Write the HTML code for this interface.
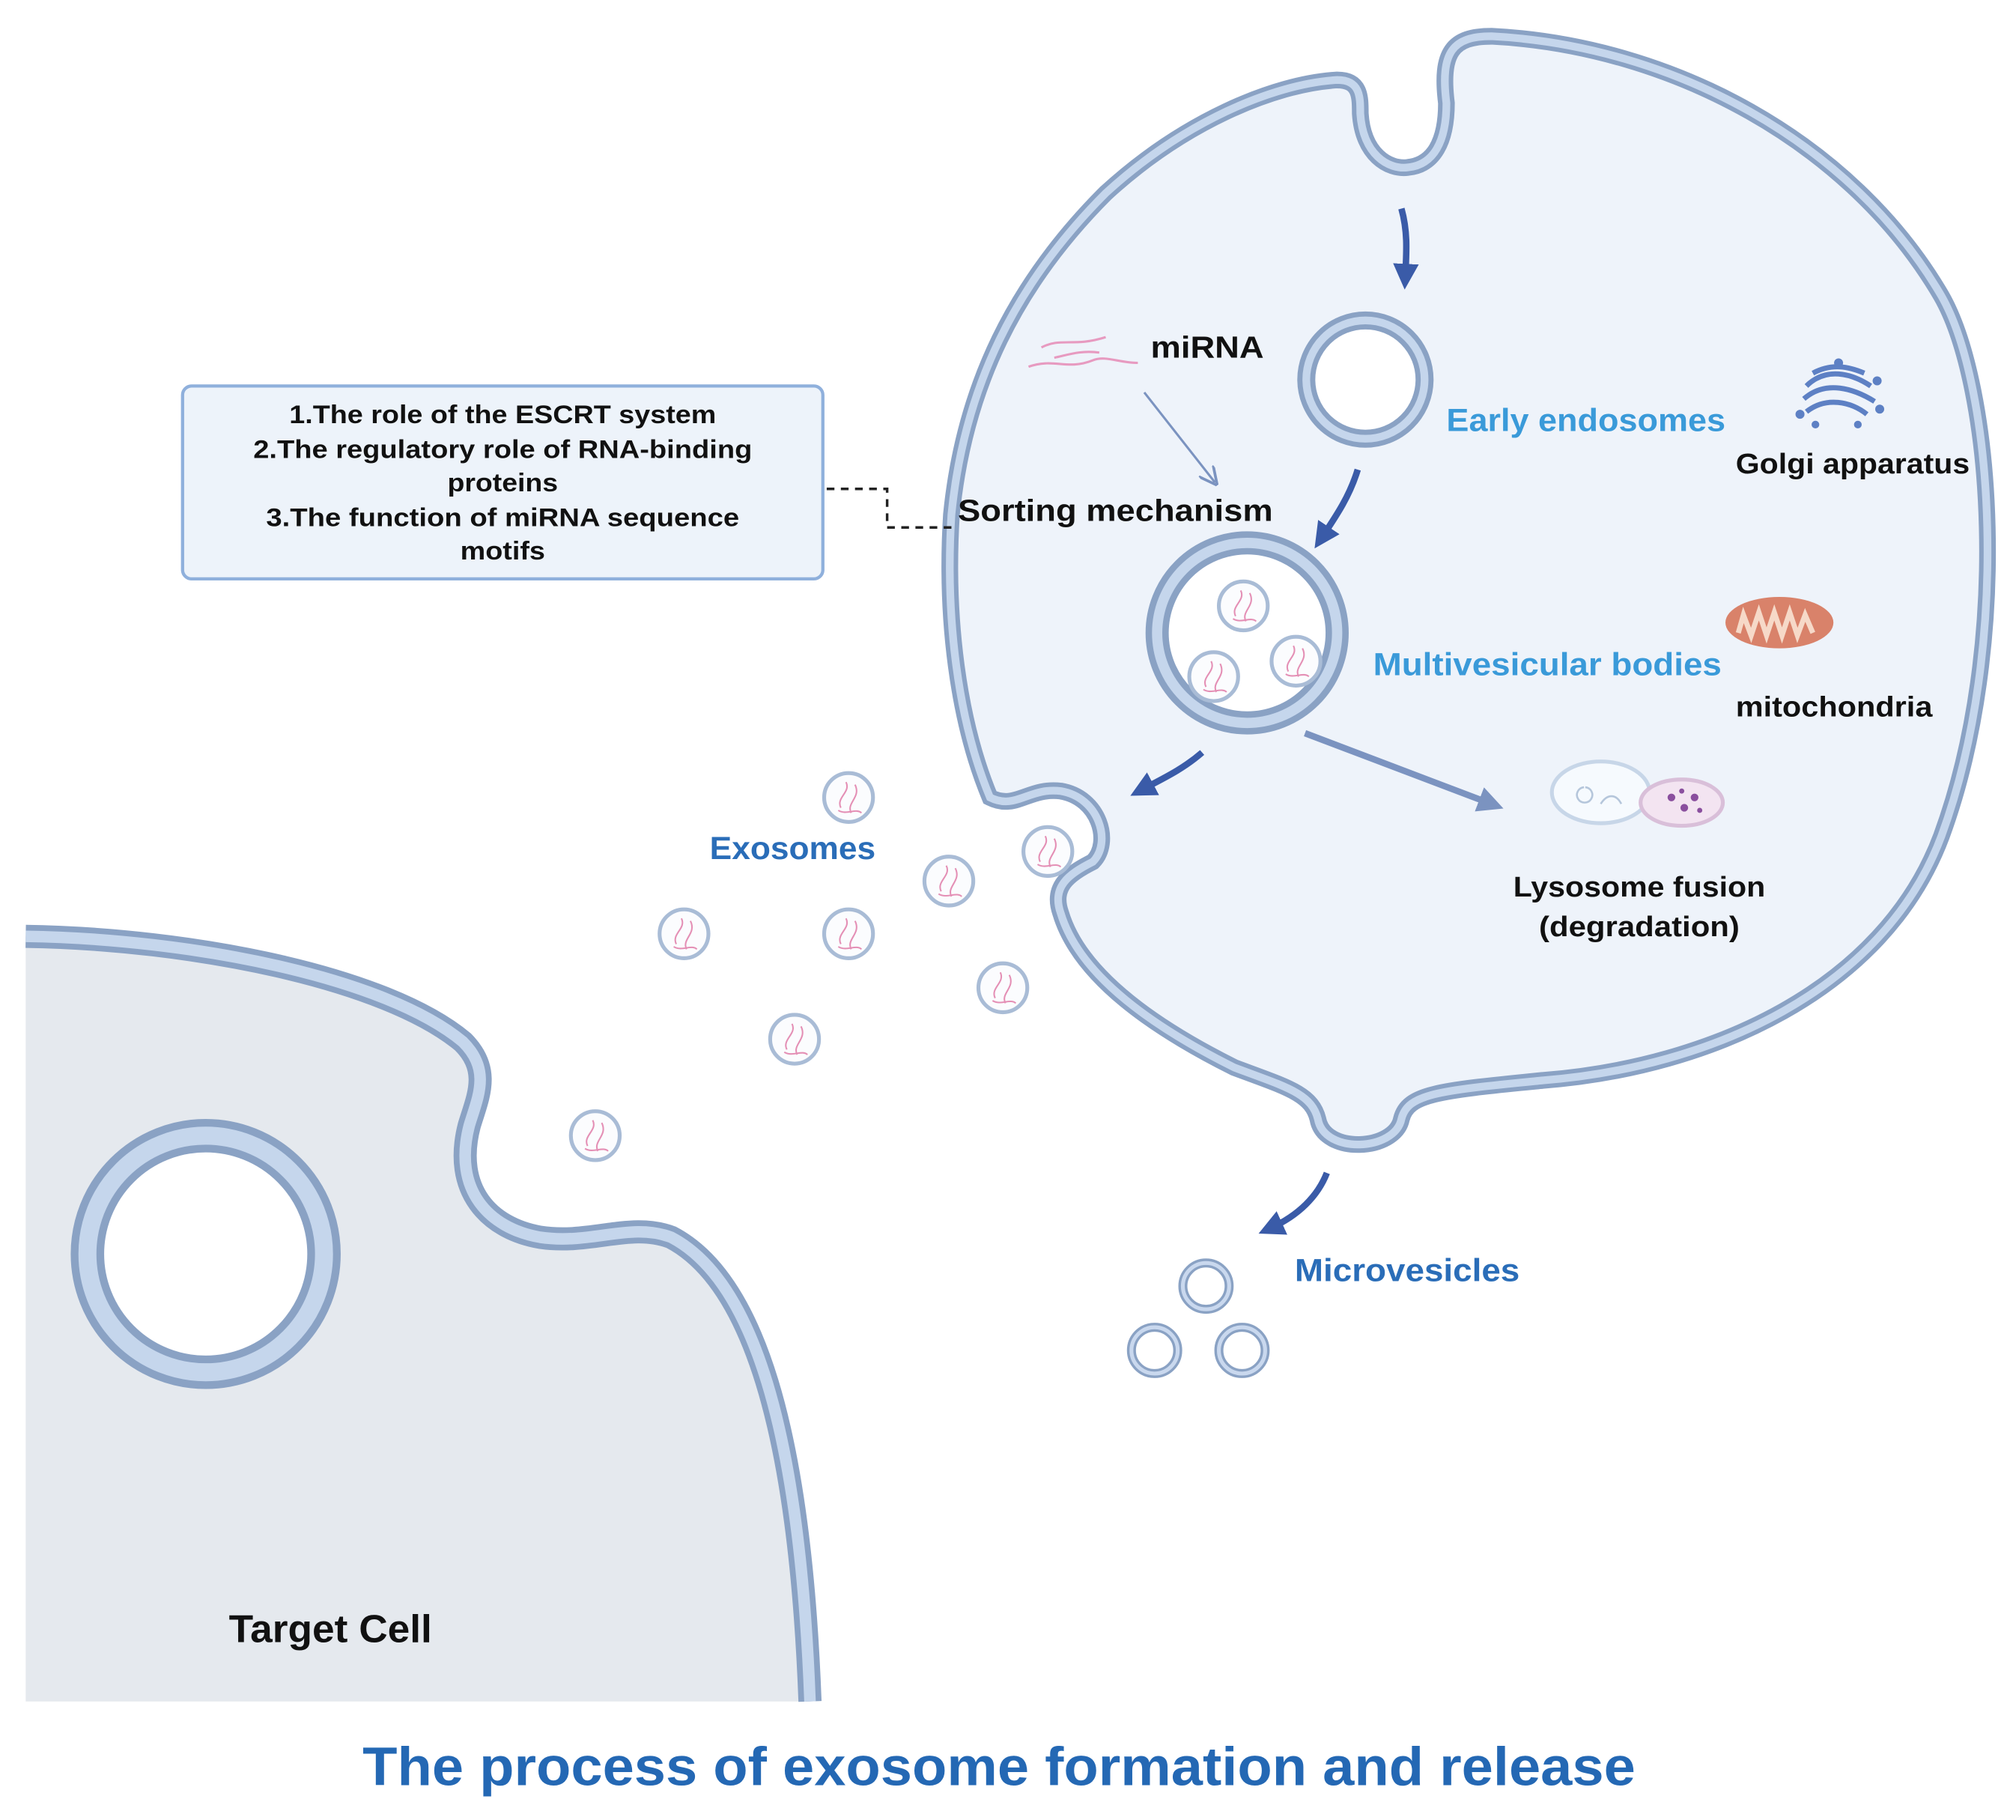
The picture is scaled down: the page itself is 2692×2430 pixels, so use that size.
<!DOCTYPE html>
<html><head><meta charset="utf-8"><style>
html,body{margin:0;padding:0;background:#fff;}
svg{display:block;}
text{font-family:"Liberation Sans",sans-serif;font-weight:bold;}
</style></head><body>
<svg width="2692" height="2430" viewBox="0 0 1568 1415" xmlns="http://www.w3.org/2000/svg">
<defs>
<marker id="ah" viewBox="0 0 10 10" refX="5" refY="5" markerWidth="4" markerHeight="4" orient="auto"><path d="M0,0 L10,5 L0,10 z" fill="#3a5ba8"/></marker>
<marker id="ah2" viewBox="0 0 10 10" refX="5" refY="5" markerWidth="4" markerHeight="4" orient="auto"><path d="M0,0 L10,5 L0,10 z" fill="#7b93c0"/></marker>
<marker id="ah3" viewBox="0 0 10 10" refX="8" refY="5" markerWidth="8" markerHeight="8" orient="auto"><path d="M0,0 L10,5 L0,10" fill="none" stroke="#7b93c0" stroke-width="1.5"/></marker>
<g id="ves">
<circle r="19" fill="#fbfcfe" stroke="#a9bcd6" stroke-width="3"/>
<path d="M-6,8 C-10,0 2,-4 -2,-12 M2,12 C-2,4 10,0 5,-10 M-8,10 C-2,14 6,8 10,12" fill="none" stroke="#e48fb5" stroke-width="1.2"/>
</g>
<g id="mv"><circle r="18" fill="#fff" stroke="#8aa2c4" stroke-width="7"/><circle r="18" fill="none" stroke="#c9d8ee" stroke-width="3"/></g>
<path id="cellp" d="M1058,88 C1060,120 1080,132 1095,130 C1115,128 1125,110 1125,80 C1120,40 1130,28 1160,28 C1300,35 1440,110 1510,230 C1550,300 1565,500 1510,650 C1465,770 1330,830 1200,840 C1120,848 1095,850 1090,870 C1085,895 1030,898 1025,870 C1020,850 1000,845 960,830 C900,800 840,760 825,710 C818,690 830,680 850,670 C865,655 855,620 825,615 C800,612 790,630 770,620 C745,560 735,480 740,400 C750,300 790,220 860,150 C920,95 990,65 1040,62 C1058,62 1058,75 1058,88 Z"/>
<path id="tcp" d="M20,728 C150,730 300,760 360,810 C382,832 372,852 365,875 C352,925 380,955 420,962 C460,968 490,950 522,962 C585,995 622,1110 630,1323"/>
</defs>

<!-- target cell -->
<path d="M20,728 C150,730 300,760 360,810 C382,832 372,852 365,875 C352,925 380,955 420,962 C460,968 490,950 522,962 C585,995 622,1110 630,1323 L20,1323 Z" fill="#e5e9ee"/>
<use href="#tcp" fill="none" stroke="#8aa2c4" stroke-width="18"/>
<use href="#tcp" fill="none" stroke="#c5d6ec" stroke-width="9"/>
<circle cx="160" cy="975" r="92" fill="#fff" stroke="#8aa2c4" stroke-width="26"/>
<circle cx="160" cy="975" r="92" fill="none" stroke="#c5d6ec" stroke-width="14"/>

<!-- main cell -->
<use href="#cellp" fill="#eef3fa" stroke="#8aa2c4" stroke-width="13"/>
<use href="#cellp" fill="none" stroke="#c5d6ec" stroke-width="6"/>

<!-- early endosome -->
<circle cx="1062" cy="295" r="46" fill="#fff" stroke="#8aa2c4" stroke-width="14"/>
<circle cx="1062" cy="295" r="46" fill="none" stroke="#c5d6ec" stroke-width="6"/>
<!-- MVB -->
<circle cx="970" cy="492" r="70" fill="#fff" stroke="#8aa2c4" stroke-width="18"/>
<circle cx="970" cy="492" r="70" fill="none" stroke="#c5d6ec" stroke-width="8"/>
<use href="#ves" x="967" y="471"/><use href="#ves" x="944" y="526"/><use href="#ves" x="1008" y="514"/>

<!-- exosomes -->
<use href="#ves" x="660" y="620"/><use href="#ves" x="815" y="662"/><use href="#ves" x="738" y="685"/>
<use href="#ves" x="532" y="726"/><use href="#ves" x="660" y="726"/><use href="#ves" x="780" y="768"/>
<use href="#ves" x="618" y="808"/><use href="#ves" x="463" y="883"/>

<!-- microvesicles -->
<use href="#mv" x="938" y="1000"/><use href="#mv" x="898" y="1050"/><use href="#mv" x="966" y="1050"/>

<!-- arrows -->
<path d="M1090,162 C1095,180 1094,195 1093,215" fill="none" stroke="#3a5ba8" stroke-width="5" marker-end="url(#ah)"/>
<path d="M1056,365 C1050,385 1040,400 1028,418" fill="none" stroke="#3a5ba8" stroke-width="5" marker-end="url(#ah)"/>
<path d="M935,585 C920,598 905,605 888,614" fill="none" stroke="#3a5ba8" stroke-width="5" marker-end="url(#ah)"/>
<path d="M1015,570 L1160,625" fill="none" stroke="#7b93c0" stroke-width="5" marker-end="url(#ah2)"/>
<path d="M1032,912 C1025,930 1010,945 988,955" fill="none" stroke="#3a5ba8" stroke-width="5" marker-end="url(#ah)"/>
<path d="M890,305 L945,375" fill="none" stroke="#7b93c0" stroke-width="1.8" marker-end="url(#ah3)"/>

<!-- miRNA squiggles -->
<path d="M800,285 C820,278 830,288 850,280 C860,276 870,282 885,282 M810,270 C825,262 835,270 860,262 M820,278 C830,276 840,272 855,274" fill="none" stroke="#e79ac0" stroke-width="1.8"/>

<!-- golgi -->
<g fill="#5d80c4" stroke="#5d80c4">
<path d="M1405,300 C1420,285 1440,290 1455,300 M1403,310 C1420,295 1442,302 1458,312 M1405,320 C1420,308 1440,312 1452,322 M1410,290 C1425,282 1438,285 1450,290" fill="none" stroke-width="4"/>
<circle cx="1400" cy="322" r="3"/><circle cx="1460" cy="296" r="3"/><circle cx="1462" cy="318" r="3"/><circle cx="1430" cy="282" r="3"/><circle cx="1445" cy="330" r="2.5"/><circle cx="1412" cy="330" r="2.5"/>
</g>
<!-- mitochondria -->
<ellipse cx="1384" cy="484" rx="42" ry="20" fill="#d9826a"/>
<path d="M1352,492 L1356,478 L1362,494 L1368,476 L1374,494 L1380,476 L1386,494 L1392,476 L1398,494 L1404,478 L1410,492" fill="none" stroke="#f6d9c8" stroke-width="4"/>
<!-- lysosome -->
<ellipse cx="1245" cy="616" rx="38" ry="24" fill="#f6fafe" stroke="#c7d6e8" stroke-width="3"/>
<ellipse cx="1308" cy="624" rx="32" ry="18" fill="#f3e4f1" stroke="#d9bfd9" stroke-width="3"/>
<g fill="#8a4f9e"><circle cx="1300" cy="620" r="3"/><circle cx="1310" cy="628" r="3"/><circle cx="1318" cy="620" r="3"/><circle cx="1308" cy="615" r="2"/><circle cx="1322" cy="630" r="2"/></g>
<path d="M1232,612 a6,6 0 1 0 1,0 M1245,625 c5,-8 12,-8 16,0" fill="none" stroke="#b5c6db" stroke-width="1.5"/>

<!-- box -->
<rect x="142" y="300" width="498" height="150" rx="7" fill="#edf3fa" stroke="#8fb0dc" stroke-width="2.5"/>
<g font-size="20" text-anchor="middle" fill="#111">
<text x="391" y="329" textLength="332" lengthAdjust="spacingAndGlyphs">1.The role of the ESCRT system</text>
<text x="391" y="356" textLength="388" lengthAdjust="spacingAndGlyphs">2.The regulatory role of RNA-binding</text>
<text x="391" y="382" textLength="86" lengthAdjust="spacingAndGlyphs">proteins</text>
<text x="391" y="409" textLength="368" lengthAdjust="spacingAndGlyphs">3.The function of miRNA sequence</text>
<text x="391" y="435" textLength="66" lengthAdjust="spacingAndGlyphs">motifs</text>
</g>
<path d="M643,380 L690,380 L690,410 L740,410" fill="none" stroke="#222" stroke-width="2" stroke-dasharray="6,5"/>

<!-- labels -->
<g font-size="24" fill="#111">
<text x="895" y="278" textLength="88" lengthAdjust="spacingAndGlyphs">miRNA</text>
<text x="745" y="405" textLength="245" lengthAdjust="spacingAndGlyphs">Sorting mechanism</text>
</g>
<g font-size="22" fill="#111">
<text x="1350" y="368" textLength="182" lengthAdjust="spacingAndGlyphs">Golgi apparatus</text>
<text x="1350" y="557" textLength="153" lengthAdjust="spacingAndGlyphs">mitochondria</text>
<text x="1275" y="697" text-anchor="middle" textLength="196" lengthAdjust="spacingAndGlyphs">Lysosome fusion</text>
<text x="1275" y="728" text-anchor="middle" textLength="156" lengthAdjust="spacingAndGlyphs">(degradation)</text>
</g>
<g font-size="25" fill="#3a9ad9">
<text x="1125" y="335" textLength="217" lengthAdjust="spacingAndGlyphs">Early endosomes</text>
<text x="1068" y="525" textLength="271" lengthAdjust="spacingAndGlyphs">Multivesicular bodies</text>
</g>
<g font-size="25" fill="#2a6db8">
<text x="552" y="668" textLength="129" lengthAdjust="spacingAndGlyphs">Exosomes</text>
<text x="1007" y="996" textLength="175" lengthAdjust="spacingAndGlyphs">Microvesicles</text>
</g>
<text x="178" y="1277" font-size="30" fill="#111" textLength="158" lengthAdjust="spacingAndGlyphs">Target Cell</text>
<text x="777" y="1388" font-size="42" fill="#2468b4" text-anchor="middle" textLength="990" lengthAdjust="spacingAndGlyphs">The process of exosome formation and release</text>
</svg>
</body></html>
